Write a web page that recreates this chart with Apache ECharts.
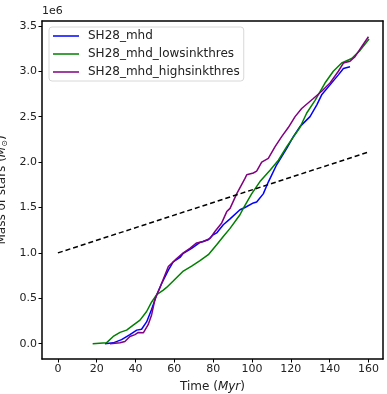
<!DOCTYPE html>
<html>
<head>
<meta charset="utf-8">
<script src="https://cdn.jsdelivr.net/npm/echarts@6/dist/echarts.min.js"></script>
<style>
  html, body { margin: 0; padding: 0; background: #fff; }
  #chart { width: 387px; height: 394px; }
</style>
</head>
<body>
<div id="chart"></div>
<script>
// mass of stars in units of 1e6 Msun, time in Myr
const mhdTime = [24.2, 28.5, 32.8, 37.1, 40.6, 43.1, 45.7, 48.3, 50.9, 53.4, 56.9, 59.4, 62.9, 64.6, 68.9, 73.2, 77.5, 80, 81.8, 85.2, 88.7, 93.8, 96.4, 100.7, 102.4, 105.8, 108.4, 112.7, 117.9, 121.3, 124.7, 129.9, 133.4, 135.9, 140.2, 144.5, 147.1, 150.5]
const mhdMass = [0, 0.01, 0.045, 0.1, 0.15, 0.16, 0.24, 0.38, 0.54, 0.66, 0.81, 0.9, 0.95, 0.995, 1.05, 1.115, 1.145, 1.2, 1.22, 1.31, 1.375, 1.475, 1.5, 1.55, 1.56, 1.65, 1.78, 1.97, 2.15, 2.28, 2.39, 2.5, 2.63, 2.74, 2.85, 2.96, 3.03, 3.05]

const lowTime = [17.9, 25, 28.5, 32, 35.4, 38.8, 42.3, 45.7, 48.3, 50.9, 54.3, 56, 59.4, 64.6, 68.9, 73.2, 77.5, 81.8, 85.2, 88.7, 93.8, 95.5, 99.8, 104.1, 109.3, 113.6, 117.9, 124.7, 128.2, 132.5, 137.6, 141.9, 146.2, 151.4, 155.7, 160.3]
const lowMass = [0, 0.01, 0.08, 0.125, 0.15, 0.205, 0.26, 0.355, 0.46, 0.54, 0.59, 0.62, 0.69, 0.8, 0.855, 0.915, 0.98, 1.09, 1.18, 1.27, 1.42, 1.49, 1.65, 1.785, 1.91, 2.02, 2.17, 2.38, 2.54, 2.68, 2.87, 3.0, 3.09, 3.14, 3.23, 3.355]

const highTime = [26.8, 32, 34.5, 37.1, 39.7, 41.4, 44, 46.5, 48.3, 50, 52.6, 56.9, 60.3, 64.6, 68, 71.5, 74.9, 78.4, 80.9, 84.4, 87, 88.7, 92.1, 96.4, 97.3, 100.7, 102.4, 105, 108.4, 111.9, 115.3, 118.7, 122.2, 125.6, 131.6, 135.9, 140.2, 144.5, 147.1, 150.5, 153.1, 156.5, 160]
const highMass = [0, 0.01, 0.025, 0.08, 0.1, 0.125, 0.12, 0.21, 0.32, 0.49, 0.62, 0.85, 0.92, 1.0, 1.05, 1.11, 1.125, 1.16, 1.235, 1.33, 1.455, 1.49, 1.65, 1.82, 1.86, 1.88, 1.9, 2.0, 2.04, 2.17, 2.28, 2.38, 2.5, 2.59, 2.7, 2.78, 2.87, 3.0, 3.09, 3.11, 3.16, 3.27, 3.38]

const refTime = [0, 160]
const refMass = [1.0, 2.11]

const xTicks = [0, 20, 40, 60, 80, 100, 120, 140, 160]
const yTicks = [0, 0.5, 1.0, 1.5, 2.0, 2.5, 3.0, 3.5]

function zip(a, b) {
  return a.map((t, i) => [t, b[i]])
}

const chart = echarts.init(document.getElementById('chart'))
const font = 'DejaVu Sans'
const xMin = -8.2
const xMax = 167.5
const yMin = -0.168
const yMax = 3.553

// plain axis used only for the top / right frame edges
function frameAxis(pos, min, max) {
  return {
    type: 'value',
    position: pos,
    min: min,
    max: max,
    axisLine: { show: true, onZero: false, lineStyle: { color: '#000', width: 1.5 } },
    axisTick: { show: false },
    axisLabel: { show: false },
    splitLine: { show: false }
  }
}

const option = {
  animation: false,
  textStyle: { fontFamily: font },
  grid: {
    left: 42,
    right: 4,
    top: 21,
    bottom: 35,
    outerBoundsMode: 'none',
    containLabel: false
  },
  graphic: [{
    type: 'text',
    left: 42,
    top: 6,
    style: { text: '1e6', font: '11px "DejaVu Sans"', fill: '#222' }
  }],
  legend: {
    left: 49,
    top: 27,
    orient: 'vertical',
    icon: 'rect',
    itemWidth: 26,
    itemHeight: 1.5,
    itemGap: 6,
    padding: [3, 4, 3, 4],
    backgroundColor: '#fff',
    borderColor: '#d8d8d8',
    borderWidth: 1,
    borderRadius: 3,
    textStyle: { fontFamily: font, fontSize: 12, color: '#222', padding: [0, 0, 0, 4] },
    data: ['SH28_mhd', 'SH28_mhd_lowsinkthres', 'SH28_mhd_highsinkthres']
  },
  xAxis: [{
    type: 'value',
    min: xMin,
    max: xMax,
    name: 'Time ({i|Myr})',
    nameLocation: 'middle',
    nameGap: 22,
    nameTextStyle: {
      fontFamily: font, fontSize: 12, color: '#222',
      rich: { i: { fontFamily: font, fontSize: 12, fontStyle: 'italic', color: '#222' } }
    },
    axisLine: { onZero: false, lineStyle: { color: '#000', width: 1.5 } },
    axisTick: { show: true, length: 3.5, customValues: xTicks, lineStyle: { color: '#000' } },
    axisLabel: { customValues: xTicks, fontSize: 11, color: '#222', margin: 5, fontFamily: font },
    splitLine: { show: false }
  }, frameAxis('top', xMin, xMax)],
  yAxis: [{
    type: 'value',
    min: yMin,
    max: yMax,
    name: 'Mass of stars ({i|M}{s|⊙})',
    nameLocation: 'middle',
    nameRotate: 90,
    nameGap: 28,
    nameTextStyle: {
      fontFamily: font, fontSize: 12, color: '#222',
      rich: {
        i: { fontFamily: font, fontSize: 12, fontStyle: 'italic', color: '#222' },
        s: { fontFamily: font, fontSize: 8, color: '#222', padding: [6, 0, 0, 0] }
      }
    },
    axisLine: { onZero: false, lineStyle: { color: '#000', width: 1.5 } },
    axisTick: { show: true, length: 3.5, customValues: yTicks, lineStyle: { color: '#000' } },
    axisLabel: {
      customValues: yTicks, fontSize: 11, color: '#222', margin: 5, fontFamily: font,
      formatter: v => v.toFixed(1)
    },
    splitLine: { show: false }
  }, frameAxis('right', yMin, yMax)],
  series: [
    {
      name: 'SH28_mhd',
      type: 'line',
      data: zip(mhdTime, mhdMass),
      symbol: 'none',
      color: '#0000ff',
      lineStyle: { width: 1.5 },
      z: 3
    },
    {
      name: 'SH28_mhd_lowsinkthres',
      type: 'line',
      data: zip(lowTime, lowMass),
      symbol: 'none',
      color: '#008000',
      lineStyle: { width: 1.5 },
      z: 4
    },
    {
      name: 'SH28_mhd_highsinkthres',
      type: 'line',
      data: zip(highTime, highMass),
      symbol: 'none',
      color: '#800080',
      lineStyle: { width: 1.5 },
      z: 5
    },
    {
      name: 'reference',
      type: 'line',
      data: zip(refTime, refMass),
      symbol: 'none',
      color: '#000',
      lineStyle: { width: 1.5, type: [5, 3] },
      z: 6
    }
  ]
}

chart.setOption(option)
</script>
</body>
</html>
